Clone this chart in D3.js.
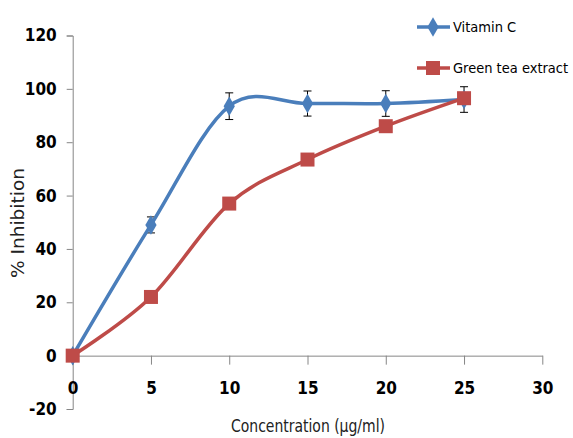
<!DOCTYPE html>
<html lang="en">
  <head>
    <meta charset="UTF-8" />
    <title>Inhibition chart</title>
    <style>
      body { margin: 0; background: #fff; }
      text { font-family: "Liberation Sans Narrow", "DejaVu Sans Condensed", sans-serif; }
    </style>
  </head>
  <body>
    <svg></svg>
    <script src="https://d3js.org/d3.v7.min.js"></script>
    <script>
      // data
      const concentration = [0, 5, 10, 15, 20, 25];
      const vitaminC = [0, 49, 93.5, 94.5, 94.5, 96];
      const vitaminCErr = [0, 3, 5, 4.7, 4.8, 4.8];
      const greenTea = [0, 22, 57, 73.5, 86, 96.5];
      const xTicks = [0, 5, 10, 15, 20, 25, 30];
      const yTicks = [-20, 0, 20, 40, 60, 80, 100, 120];
      const seriesNames = ["Vitamin C", "Green tea extract"];

      const width = 573, height = 438;
      const blue = "#4a7ebb", red = "#be4b48", axisCol = "#868686";

      const svg = d3.select("svg").attr("width", width).attr("height", height);

      const x = d3.scaleLinear().domain([0, 30]).range([72.7, 542.3]);
      const y = d3.scaleLinear().domain([-20, 120]).range([409, 35.5]);

      // y axis
      const yAxis = svg.append("g").attr("transform", "translate(" + x(0) + ",0)")
        .call(d3.axisLeft(y).tickValues(yTicks).tickSize(6).tickPadding(10).tickFormat(d => String(d)));
      yAxis.select(".domain").attr("stroke", axisCol);
      yAxis.selectAll(".tick line").attr("stroke", axisCol);
      yAxis.selectAll(".tick text")
        .attr("font-size", 17).attr("font-weight", "bold").attr("fill", "#000")
        .attr("font-family", "Liberation Sans Narrow, DejaVu Sans Condensed, sans-serif");

      // x axis sits on y = 0
      const xAxis = svg.append("g").attr("transform", "translate(0," + y(0) + ")")
        .call(d3.axisBottom(x).tickValues(xTicks).tickSize(9).tickSizeOuter(0).tickPadding(17).tickFormat(d => String(d)));
      xAxis.select(".domain").attr("stroke", axisCol);
      xAxis.selectAll(".tick line").attr("stroke", axisCol);
      xAxis.selectAll(".tick text")
        .attr("font-size", 17).attr("font-weight", "bold").attr("fill", "#000")
        .attr("font-family", "Liberation Sans Narrow, DejaVu Sans Condensed, sans-serif");

      // axis titles
      svg.append("text")
        .attr("x", 308).attr("y", 432)
        .attr("text-anchor", "middle").attr("font-size", 17).attr("fill", "#222")
        .attr("textLength", 154).attr("lengthAdjust", "spacingAndGlyphs")
        .text("Concentration  (µg/ml)");
      svg.append("text")
        .attr("transform", "translate(24,223) rotate(-90)")
        .attr("text-anchor", "middle").attr("font-size", 17).attr("fill", "#222")
        .attr("textLength", 110).attr("lengthAdjust", "spacingAndGlyphs")
        .text("% Inhibition");

      const line = d3.line().curve(d3.curveCardinal.tension(0))
        .x((d, i) => x(concentration[i])).y(d => y(d));

      // error bars for vitamin C
      const err = svg.append("g");
      concentration.forEach((c, i) => {
        if (!vitaminCErr[i]) return;
        const cx = x(c), top = y(vitaminC[i] + vitaminCErr[i]), bot = y(vitaminC[i] - vitaminCErr[i]);
        err.append("line").attr("x1", cx).attr("x2", cx).attr("y1", top).attr("y2", bot).attr("stroke", "#000").attr("stroke-width", 1);
        err.append("line").attr("x1", cx - 4).attr("x2", cx + 4).attr("y1", top).attr("y2", top).attr("stroke", "#000");
        err.append("line").attr("x1", cx - 4).attr("x2", cx + 4).attr("y1", bot).attr("y2", bot).attr("stroke", "#000");
      });

      // series lines
      svg.append("path").datum(vitaminC).attr("d", line)
        .attr("fill", "none").attr("stroke", blue).attr("stroke-width", 3.5);
      svg.append("path").datum(greenTea).attr("d", line)
        .attr("fill", "none").attr("stroke", red).attr("stroke-width", 3.5);

      const diamond = d3.symbol().type(d3.symbolDiamond).size(110);
      svg.append("g").selectAll("path").data(vitaminC).join("path")
        .attr("d", diamond)
        .attr("transform", (d, i) => "translate(" + x(concentration[i]) + "," + y(d) + ")")
        .attr("fill", blue);
      svg.append("g").selectAll("rect").data(greenTea).join("rect")
        .attr("x", (d, i) => x(concentration[i]) - 7).attr("y", d => y(d) - 7)
        .attr("width", 14).attr("height", 14)
        .attr("fill", red);

      // legend
      const legend = svg.append("g");
      const legendY = [27, 68];
      const legendCol = [blue, red];
      seriesNames.forEach((name, i) => {
        const ly = legendY[i];
        legend.append("line").attr("x1", 417).attr("x2", 450).attr("y1", ly).attr("y2", ly)
          .attr("stroke", legendCol[i]).attr("stroke-width", 3.5);
        if (i === 0) {
          legend.append("path").attr("d", diamond).attr("transform", "translate(433," + ly + ")").attr("fill", blue);
        } else {
          legend.append("rect").attr("x", 426).attr("y", ly - 7).attr("width", 14).attr("height", 14).attr("fill", red);
        }
        legend.append("text").attr("x", 453).attr("y", ly + 5)
          .attr("font-size", 14.5).attr("fill", "#000")
          .text(name);
      });
    </script>
  </body>
</html>
